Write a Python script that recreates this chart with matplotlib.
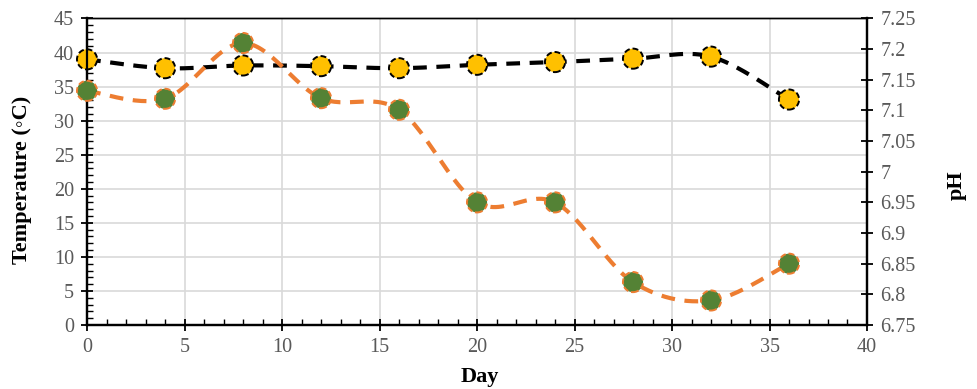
import numpy as np
import matplotlib.pyplot as plt
from matplotlib.ticker import MultipleLocator

days = [0, 4, 8, 12, 16, 20, 24, 28, 32, 36]
temperature = [39.0, 37.7, 38.1, 38.0, 37.7, 38.2, 38.6, 39.1, 39.4, 33.1]
ph = [7.132, 7.119, 7.21, 7.12, 7.101, 6.95, 6.95, 6.82, 6.79, 6.85]
ph_ticks = [6.75, 6.8, 6.85, 6.9, 6.95, 7.0, 7.05, 7.1, 7.15, 7.2, 7.25]
ph_labels = ['6.75', '6.8', '6.85', '6.9', '6.95', '7', '7.05', '7.1', '7.15', '7.2', '7.25']

plt.rcParams['font.family'] = ['Liberation Serif', 'DejaVu Serif']


def smooth(x, y, n=30):
    # Excel-style smoothed line: cubic Bezier with Catmull-Rom control points
    p = np.column_stack([x, y]).astype(float)
    pts = [p[0]]
    for i in range(len(p) - 1):
        p0 = p[i - 1] if i > 0 else p[i]
        p3 = p[i + 2] if i + 2 < len(p) else p[i + 1]
        c1 = p[i] + (p[i + 1] - p0) / 6
        c2 = p[i + 1] - (p3 - p[i]) / 6
        t = np.linspace(0, 1, n)[1:, None]
        seg = ((1 - t) ** 3 * p[i] + 3 * (1 - t) ** 2 * t * c1
               + 3 * (1 - t) * t ** 2 * c2 + t ** 3 * p[i + 1])
        pts.extend(seg)
    pts = np.array(pts)
    return pts[:, 0], pts[:, 1]


fig = plt.figure(figsize=(9.78, 3.89), dpi=100)
ax = fig.add_axes([0.089, 0.1645, 0.7975, 0.788])
ax2 = ax.twinx()

grey = '#595959'
ax.set_xlim(0, 40)
ax.set_ylim(0, 45)
ax2.set_ylim(6.75, 7.25)
ax.xaxis.set_major_locator(MultipleLocator(5))
ax.xaxis.set_minor_locator(MultipleLocator(1))
ax.yaxis.set_major_locator(MultipleLocator(5))
ax.yaxis.set_minor_locator(MultipleLocator(1))
ax2.set_yticks(ph_ticks)
ax2.set_yticklabels(ph_labels)

ax.grid(True, which='major', color='#d9d9d9', linewidth=1.2)
ax.set_axisbelow(True)

ax.tick_params(which='major', direction='inout', length=9, width=1.3,
               labelsize=14.5, labelcolor=grey, color='black', pad=5)
ax.tick_params(which='minor', direction='in', length=4, width=1.0, color='black')
ax2.tick_params(which='major', direction='inout', length=9, width=1.3,
                labelsize=14.5, labelcolor=grey, color='black', pad=5)

for a in (ax, ax2):
    a.spines['left'].set_linewidth(1.6)
    a.spines['bottom'].set_linewidth(1.6)
    a.spines['right'].set_linewidth(1.6)
    a.spines['top'].set_linewidth(1.0)

fig.text(480 / 978, 1 - 377 / 389, 'Day', fontsize=16, fontweight='bold',
         ha='center', va='center')
fig.text(22 / 978, 1 - 180 / 389, 'Temperature (◦C)', fontsize=16, fontweight='bold',
         ha='center', va='center', rotation=90)
fig.text(957 / 978, 1 - 185 / 389, 'pH', fontsize=16, fontweight='bold',
         ha='center', va='center', rotation=90)

sx, sy = smooth(days, temperature)
ax.plot(sx, sy, color='black', linewidth=3, linestyle=(0, (3.3, 2.3)), zorder=3)
ax.scatter(days, temperature, s=210, facecolor='#FFC000', edgecolor='black',
           linewidths=1.4, linestyles=(0, (3, 1.5)), zorder=4, clip_on=False)

px, py = smooth(days, ph)
ax2.plot(px, py, color='#ED7D31', linewidth=3, linestyle=(0, (3.3, 2.3)), zorder=3)
ax2.scatter(days, ph, s=210, facecolor='#548235', edgecolor='#ED7D31',
            linewidths=1.4, linestyles=(0, (3, 1.5)), zorder=4, clip_on=False)

fig.savefig('out.png', dpi=100)
